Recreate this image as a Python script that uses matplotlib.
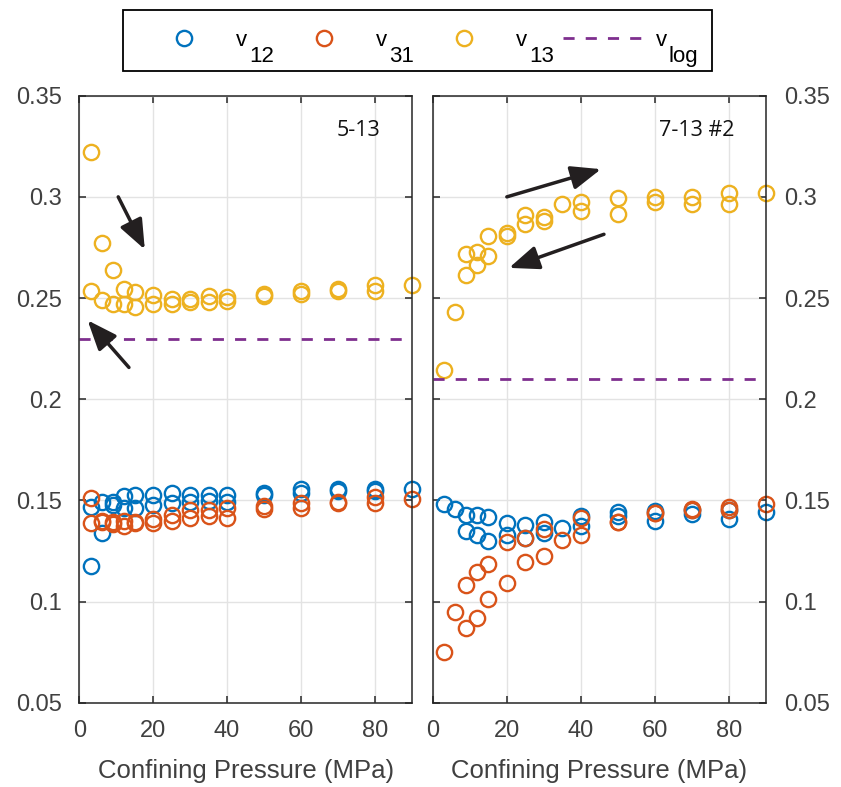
import matplotlib
matplotlib.use('Agg')
import matplotlib.pyplot as plt
from matplotlib.lines import Line2D
from matplotlib.ticker import FormatStrFormatter
import numpy as np

plt.rcParams['font.family'] = ['Liberation Sans', 'DejaVu Sans']

# ---- data: sample 5-13 (left) ----
p_load_L = [3, 6, 9, 12, 15, 20, 25, 30, 35, 40, 50, 60, 70, 80, 90]
p_unload_L = [80, 70, 60, 50, 40, 35, 30, 25, 20, 15, 12, 9, 6, 3]
v12_load_L = [0.1175, 0.1338, 0.149, 0.152, 0.1525, 0.1525, 0.1535, 0.1525, 0.1525, 0.1525,
              0.1535, 0.1555, 0.1555, 0.1558, 0.1558]
v12_unload_L = [0.1545, 0.1545, 0.1535, 0.1525, 0.149, 0.1495, 0.149, 0.1485, 0.1475, 0.146,
                0.146, 0.1475, 0.149, 0.1467]
v31_load_L = [0.139, 0.140, 0.1393, 0.1372, 0.139, 0.139, 0.140, 0.1415, 0.1425, 0.1415,
              0.1455, 0.146, 0.1487, 0.1487, 0.1505]
v31_unload_L = [0.1515, 0.149, 0.1485, 0.147, 0.146, 0.145, 0.145, 0.143, 0.141, 0.1395,
                0.140, 0.1385, 0.1395, 0.1513]
v13_load_L = [0.322, 0.277, 0.264, 0.2547, 0.253, 0.2513, 0.2497, 0.2497, 0.2508, 0.2505,
              0.2518, 0.2535, 0.2546, 0.2562, 0.2562]
v13_unload_L = [0.2536, 0.2535, 0.2518, 0.2512, 0.2486, 0.248, 0.248, 0.2472, 0.2472, 0.2455,
                0.2472, 0.2472, 0.2492, 0.2535]
vlog_L = 0.23

# ---- data: sample 7-13 #2 (right) ----
p_load_R = [3, 6, 9, 12, 15, 20, 25, 30, 35, 40, 50, 60, 70, 80, 90]
p_unload_R = [80, 70, 60, 50, 40, 30, 25, 20, 15, 12, 9]
v12_load_R = [0.1484, 0.1457, 0.1429, 0.1429, 0.1418, 0.1388, 0.138, 0.1391, 0.1363, 0.1372,
              0.1443, 0.140, 0.1435, 0.141, 0.1445]
v12_unload_R = [0.145, 0.145, 0.1447, 0.1425, 0.1421, 0.1339, 0.1314, 0.1331, 0.1297, 0.1331,
                0.1347]
v31_load_R = [0.0752, 0.095, 0.1083, 0.1146, 0.1187, 0.1294, 0.1314, 0.1358, 0.1305, 0.1413,
              0.1391, 0.1438, 0.1457, 0.1469, 0.148]
v31_unload_R = [0.1451, 0.145, 0.1438, 0.1391, 0.133, 0.1223, 0.1195, 0.1091, 0.1013, 0.0918,
                0.0868]
v13_load_R = [0.2146, 0.243, 0.2612, 0.2662, 0.2706, 0.2805, 0.2868, 0.2882, 0.2964, 0.2931,
              0.2914, 0.2975, 0.2967, 0.2967, 0.302]
v13_unload_R = [0.302, 0.300, 0.300, 0.2992, 0.2975, 0.290, 0.291, 0.2822, 0.2805, 0.2728,
                0.2716]
vlog_R = 0.21

panel_names = ['5-13', '7-13 #2']
legend_subs = ['12', '31', '13', 'log']

# arrows (tail, head) in data units
arrows_L = [((10.5, 0.300), (17.7, 0.274)), ((13.4, 0.2157), (2.2, 0.239))]
arrows_R = [((20.0, 0.300), (45.4, 0.3137)), ((46.2, 0.2815), (20.6, 0.2649))]

C12 = '#0072BD'
C31 = '#D95319'
C13 = '#EDB120'
CLOG = '#7E2F8E'
AXC = '#262626'
TXC = '#404040'
MS = 11
MEW = 1.7
FS = 16

fig = plt.figure(figsize=(8.41, 7.87), dpi=100)
axL = fig.add_axes([0.0945, 0.1071, 0.395, 0.7713])
axR = fig.add_axes([0.5145, 0.1071, 0.3967, 0.7713])


def ring(ax, x, y, c):
    ax.plot(x, y, ls='none', marker='o', mfc='none', mec=c, ms=MS, mew=MEW, clip_on=False)


def draw_panel(ax, p_load, p_unload, v12l, v12u, v31l, v31u, v13l, v13u, vlog, name, arrows):
    ring(ax, p_load, v12l, C12)
    ring(ax, p_unload, v12u, C12)
    ring(ax, p_load, v31l, C31)
    ring(ax, p_unload, v31u, C31)
    ring(ax, p_load, v13l, C13)
    ring(ax, p_unload, v13u, C13)
    ax.plot([0, 90], [vlog, vlog], color=CLOG, ls=(0, (4, 4)), lw=2)

    for tail, head in arrows:
        ax.annotate('', xy=head, xytext=tail,
                    arrowprops=dict(arrowstyle='-|>,head_length=0.55,head_width=0.22',
                                    color='#231f20', lw=2.5, mutation_scale=33,
                                    shrinkA=0, shrinkB=0))

    ax.text(81.5, 0.333, name, ha='right', va='center', fontsize=15.5,
            family=['Open Sans', 'DejaVu Sans'], color='#111111')

    ax.set_xlim(0, 90)
    ax.set_ylim(0.05, 0.35)
    ax.set_xticks([0, 20, 40, 60, 80])
    ax.set_yticks(np.arange(0.05, 0.351, 0.05))
    ax.yaxis.set_major_formatter(FormatStrFormatter('%g'))
    ax.grid(True, color='#e3e3e3', lw=1)
    ax.set_axisbelow(True)
    for s in ax.spines.values():
        s.set_color(AXC)
        s.set_linewidth(1.1)
    ax.tick_params(direction='in', length=5, width=1.1, color=AXC, labelcolor=TXC,
                   labelsize=17, top=True, right=True, left=True, bottom=True)
    ax.tick_params(axis='x', pad=12.5)
    ax.tick_params(axis='y', pad=12.5)
    ax.set_xlabel('Confining Pressure (MPa)', fontsize=18.5, color=TXC)
    ax.xaxis.set_label_coords(0.5, -0.092)
    ax.xaxis.label.set_va('top')


draw_panel(axL, p_load_L, p_unload_L, v12_load_L, v12_unload_L, v31_load_L, v31_unload_L,
           v13_load_L, v13_unload_L, vlog_L, panel_names[0], arrows_L)
draw_panel(axR, p_load_R, p_unload_R, v12_load_R, v12_unload_R, v31_load_R, v31_unload_R,
           v13_load_R, v13_unload_R, vlog_R, panel_names[1], arrows_R)
axR.tick_params(labelleft=False, labelright=True)

# legend: MATLAB-style "v" with a dropped, full-size subscript.
# The padded labels only reserve room; the visible text is drawn on top.
handles = [Line2D([], [], ls='none', marker='o', mfc='none', mec=c, ms=MS, mew=MEW)
           for c in (C12, C31, C13)]
handles.append(Line2D([], [], color=CLOG, ls=(0, (4, 4)), lw=2))
labels = ['v' + ' ' * round(len(s) * 1.5) for s in legend_subs]
leg = fig.legend(handles, labels, loc='center', bbox_to_anchor=(0.4964, 0.949),
                 ncol=4, frameon=True, fancybox=False, edgecolor='black', framealpha=1,
                 handlelength=3.7, handletextpad=0.5, columnspacing=0.77, borderpad=0.9,
                 fontsize=FS)
leg.get_frame().set_linewidth(1.3)

fig.canvas.draw()
renderer = fig.canvas.get_renderer()
W, H = fig.bbox.width, fig.bbox.height
for t, sub in zip(leg.get_texts(), legend_subs):
    bb = t.get_window_extent(renderer)
    t.set_visible(False)
    fig.text(bb.x0 / W, bb.y0 / H, 'v', fontsize=FS, ha='left', va='bottom',
             color='black', zorder=10)
    fig.text((bb.x0 + 12.5) / W, (bb.y0 - 11.5) / H, sub, fontsize=FS,
             ha='left', va='baseline', color='black', zorder=10)

fig.savefig('out.png', dpi=100)
